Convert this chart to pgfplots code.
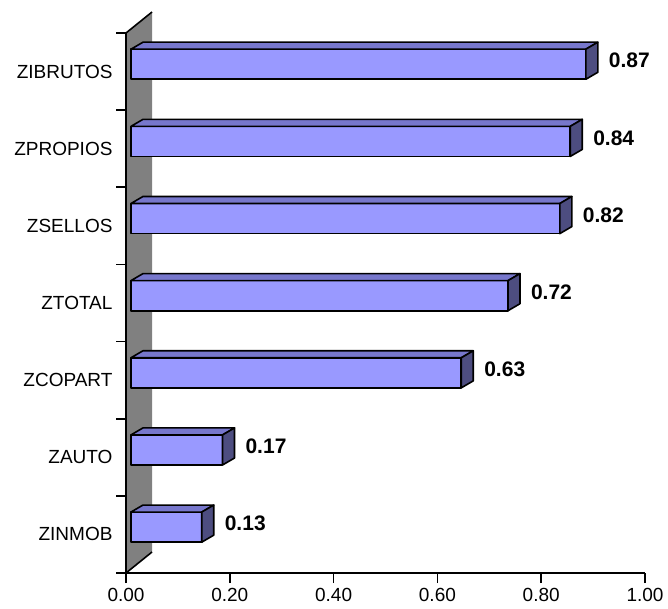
\documentclass[border=0pt]{standalone}
\usepackage{pgfplots}
\pgfplotsset{compat=1.18}
\usepackage{fontspec}
\setmainfont{Liberation Sans}

\definecolor{barfront}{HTML}{9999FF}
\definecolor{bartop}{HTML}{7777CC}
\definecolor{barside}{HTML}{4D4D80}
\definecolor{wallgray}{HTML}{808080}

% #1 = category index, #2 = value
\newcommand{\threedbar}[2]{%
  \pgfmathsetmacro{\xa}{0.0096}%
  \pgfmathsetmacro{\xb}{#2+0.016}%
  \pgfmathsetmacro{\ya}{#1-0.10}%
  \pgfmathsetmacro{\yb}{#1+0.29}%
  \pgfmathsetmacro{\xc}{\xa+0.0231}%
  \pgfmathsetmacro{\xd}{\xb+0.0231}%
  \pgfmathsetmacro{\yc}{\ya+0.0907}%
  \pgfmathsetmacro{\yd}{\yb+0.0907}%
  \pgfmathsetmacro{\xl}{#2+0.06}%
  \pgfmathsetmacro{\yl}{#1+0.14}%
  \addplot[fill=barfront, draw=black, line width=1.6pt, line join=round] coordinates {(\xa,\ya) (\xb,\ya) (\xb,\yb) (\xa,\yb)} -- cycle;
  \addplot[fill=bartop, draw=black, line width=1.6pt, line join=round] coordinates {(\xa,\yb) (\xb,\yb) (\xd,\yd) (\xc,\yd)} -- cycle;
  \addplot[fill=barside, draw=black, line width=1.6pt, line join=round] coordinates {(\xb,\ya) (\xd,\yc) (\xd,\yd) (\xb,\yb)} -- cycle;
  \addplot[draw=none, mark=none, nodes near coords, point meta=explicit symbolic,
    every node near coord/.append style={anchor=west, inner sep=0pt, text=black,
      font=\fontsize{21}{24}\selectfont\bfseries}]
    coordinates {(\xl,\yl) [#2]};
}

\begin{document}
\begin{tikzpicture}
\begin{axis}[
  at={(0,0)}, anchor=south west,
  scale only axis, width=519pt, height=540pt,
  xmin=0, xmax=1, ymin=-0.5, ymax=6.5,
  clip=false, axis on top,
  axis lines=left,
  axis line style={-, black, line width=1.6pt},
  tick style={black, line width=1.6pt},
  tick align=outside,
  major tick length=10pt,
  xtick={0,0.2,0.4,0.6,0.8,1.0},
  /pgf/number format/fixed,
  /pgf/number format/fixed zerofill,
  /pgf/number format/precision=2,
  /pgf/number format/assume math mode=true,
  ytick={-0.5,0.5,1.5,2.5,3.5,4.5,5.5,6.5},
  y tick label as interval,
  yticklabels={ZINMOB,ZAUTO,ZCOPART,ZTOTAL,ZSELLOS,ZPROPIOS,ZIBRUTOS},
  ticklabel style={font=\fontsize{19}{22}\selectfont, text=black},
  xticklabel style={yshift=-2pt},
  yticklabel style={xshift=0pt},
]
% back wall
\addplot[fill=wallgray, draw=none] coordinates {(0,-0.5) (0.0501,-0.228) (0.0501,6.772) (0,6.5)} -- cycle;
\addplot[black, line width=1.6pt] coordinates {(0,6.5) (0.0501,6.772)};
\addplot[black, line width=1.6pt] coordinates {(0,-0.5) (0.0501,-0.228)};
% bars
\threedbar{0}{0.13}
\threedbar{1}{0.17}
\threedbar{2}{0.63}
\threedbar{3}{0.72}
\threedbar{4}{0.82}
\threedbar{5}{0.84}
\threedbar{6}{0.87}
\end{axis}
\pgfresetboundingbox
\path[use as bounding box] (-126pt,-36pt) rectangle (542pt,573pt);
\end{tikzpicture}
\end{document}
